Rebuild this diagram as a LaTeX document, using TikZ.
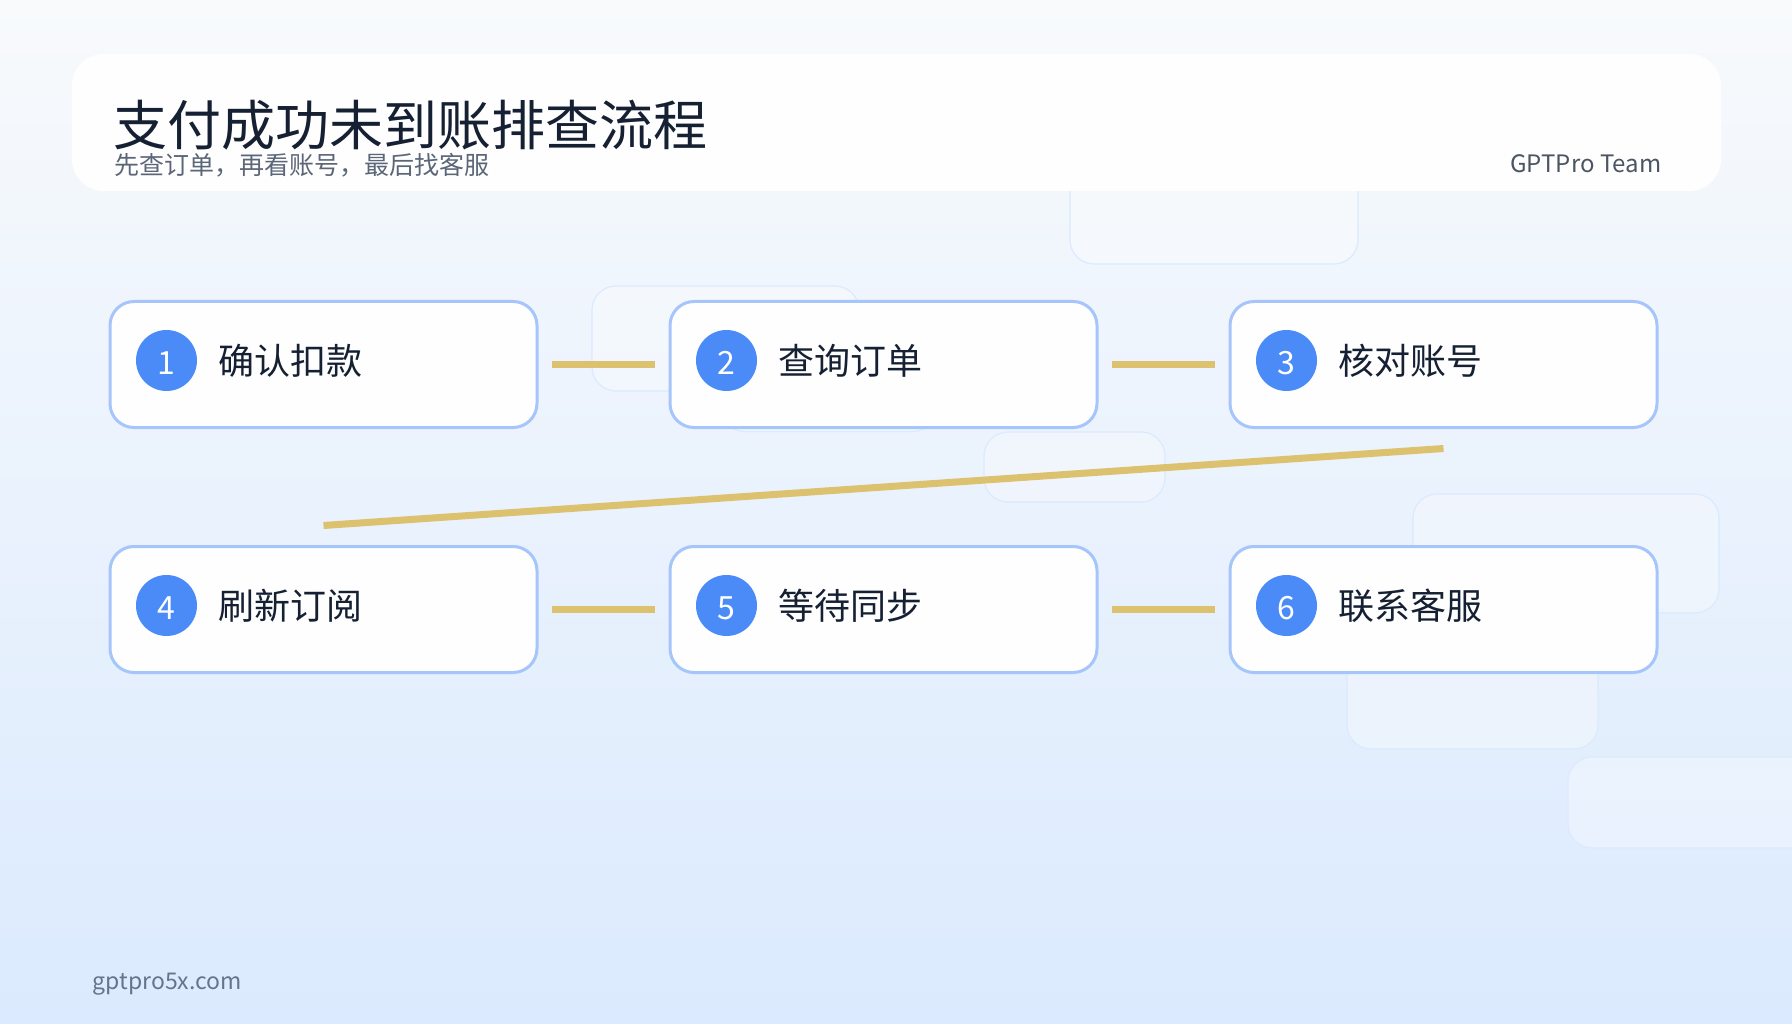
\documentclass[tikz,border=0pt]{standalone}
\usepackage{fontspec}
\setmainfont{Noto Sans CJK SC}
\usetikzlibrary{calc}
\definecolor{bgtop}{HTML}{F8FAFC}
\definecolor{bgbot}{HTML}{DBEAFE}
\definecolor{cardline}{HTML}{A5C5FB}
\definecolor{badge}{HTML}{4A8BF8}
\definecolor{ink}{HTML}{152033}
\definecolor{subink}{HTML}{5B6678}
\definecolor{teamink}{HTML}{4B5563}
\definecolor{footink}{HTML}{64748B}
\definecolor{conn}{HTML}{DCC26E}
\definecolor{ghostline}{HTML}{DBEAFE}
\tikzset{
  x=1pt,y=-1pt,
  ghost/.style={draw=ghostline,line width=1.2pt,fill=white,fill opacity=.3,rounded corners=24pt},
  card/.style={draw=cardline,line width=3pt,fill=white,fill opacity=.97,text opacity=1,rounded corners=24pt,minimum width=427pt,minimum height=126pt,inner sep=0pt,outer sep=0pt},
  badgec/.style={circle,fill=badge,minimum size=61pt,inner sep=0pt,text=white,text height=28.5pt,text depth=0pt,font=\fontsize{32}{32}\selectfont},
  lab/.style={anchor=base west,inner sep=0pt,text=ink,font=\fontsize{36}{36}\selectfont},
  link/.style={draw=conn,line width=7pt},
  across/.style={link,shorten <=15pt,shorten >=15pt},
}
\begin{document}
\begin{tikzpicture}
\useasboundingbox (0,0) rectangle (1792,1024);
\shade[top color=bgtop,bottom color=bgbot] (0,0) rectangle (1792,1024);
% faint background panels
\path[ghost] (1070,153) rectangle (1358,264);
\path[ghost] (592,286) rectangle (859,391);
\path[ghost] (721,334) rectangle (937,431.5);
\path[ghost] (984,432) rectangle (1165,502);
\path[ghost] (1413,494) rectangle (1719,613);
\path[ghost] (1347,640) rectangle (1598,749);
\path[ghost] (1568,757) rectangle (1830,848);
% header
\path[fill=white,fill opacity=.95,rounded corners=32pt] (72,54) rectangle (1721,191);
\node[anchor=base west,inner sep=0pt,text=ink,font=\fontsize{54}{54}\selectfont] (title) at (113,146) {支付成功未到账排查流程};
\node[anchor=base west,inner sep=0pt,text=subink,font=\fontsize{25}{25}\selectfont] (subtitle) at (114,175) {先查订单，再看账号，最后找客服};
\node[anchor=base east,inner sep=0pt,text=teamink,font=\fontsize{24}{24}\selectfont] (team) at (1661.5,172.5) {GPTPro Team};
\node[card] (c1) at (323.5,364.5) {};
\node[card] (c2) at (883.5,364.5) {};
\node[card] (c3) at (1443.5,364.5) {};
\node[card] (c4) at (323.5,609.5) {};
\node[card] (c5) at (883.5,609.5) {};
\node[card] (c6) at (1443.5,609.5) {};
\foreach \n/\t/\cx/\cy in {1/确认扣款/166.5/360.5,2/查询订单/726.5/360.5,3/核对账号/1286.5/360.5,4/刷新订阅/166.5/605.5,5/等待同步/726.5/605.5,6/联系客服/1286.5/605.5}{
  \node[badgec] (b\n) at (\cx,\cy) {\n};
  \node[lab] (t\n) at (\cx+51.5,\cy+14) {\t};
}
\draw[across] (c1) -- (c2);
\draw[across] (c2) -- (c3);
\draw[across] (c4) -- (c5);
\draw[across] (c5) -- (c6);
\coordinate (d3) at ($(c3.south)+(0,21)$);
\coordinate (d4) at ($(c4.north)+(0,-21)$);
\draw[link] (d3) -- (d4);
\node[anchor=base west,inner sep=0pt,text=footink,font=\fontsize{23}{23}\selectfont] (foot) at (92.5,989.5) {gptpro5x.com};
\end{tikzpicture}
\end{document}
